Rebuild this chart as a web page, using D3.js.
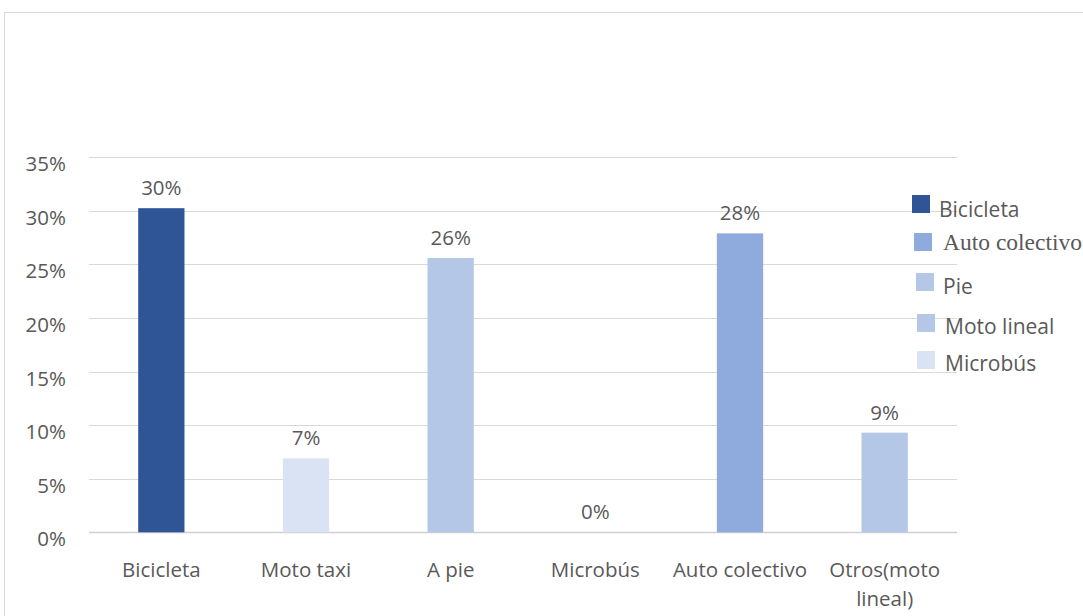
<!DOCTYPE html>
<html><head><meta charset="utf-8">
<script src="https://cdn.jsdelivr.net/npm/d3@7"></script>
<style>body{margin:0;background:#fff}svg{display:block}text{font-family:"Open Sans",sans-serif;fill:#595959}</style>
</head><body><svg id="c" width="1083" height="616"></svg>
<script>
const categories = ["Bicicleta","Moto taxi","A pie","Microbús","Auto colectivo","Otros(moto lineal)"];
const values = [0.3025, 0.069, 0.256, 0, 0.279, 0.093];
const labels = ["30%","7%","26%","0%","28%","9%"];
const barColors = ["#2F5597","#DAE3F3","#B4C7E7","#DAE3F3","#8FAADC","#B4C7E7"];
const yTicks = [0,0.05,0.10,0.15,0.20,0.25,0.30,0.35];
const legendItems = ["Bicicleta","Auto colectivo","Pie","Moto lineal","Microbús"];
const legendColors = ["#2F5597","#8FAADC","#B4C7E7","#B4C7E7","#DAE3F3"];
const legendSerif = [false,true,false,false,false];

const svg = d3.select("#c");
svg.append("rect").attr("x",4.5).attr("y",12.5).attr("width",1090).attr("height",620)
  .attr("fill","none").attr("stroke","#d9d9d9");

const x = d3.scaleBand().domain(categories).range([89,957]).paddingInner(0.68).paddingOuter(0.34);
const y = d3.scaleLinear().domain([0,0.35]).range([532.3,157.3]);

const g = svg.append("g");
g.selectAll("line.grid").data(yTicks).join("line").attr("class","grid")
  .attr("x1",89).attr("x2",957).attr("y1",d=>Math.round(y(d))+0.5).attr("y2",d=>Math.round(y(d))+0.5)
  .attr("stroke",d=>d===0?"#d0d0d0":"#d9d9d9").attr("stroke-width",d=>d===0?1.5:1);

g.selectAll("text.yt").data(yTicks).join("text").attr("class","yt")
  .attr("x",66).attr("y",d=>y(d)+14).attr("text-anchor","end")
  .style("font-size","20.5px").text(d3.format(".0%"));

g.selectAll("rect.bar").data(values).join("rect").attr("class","bar")
  .attr("x",(d,i)=>x(categories[i])).attr("width",x.bandwidth())
  .attr("y",d=>y(d)).attr("height",d=>y(0)-y(d)).attr("fill",(d,i)=>barColors[i]);

g.selectAll("text.dl").data(values).join("text").attr("class","dl")
  .attr("x",(d,i)=>x(categories[i])+x.bandwidth()/2).attr("y",d=>y(d)-13)
  .attr("text-anchor","middle").style("font-size","20.5px").text((d,i)=>labels[i]);

categories.forEach((c,i)=>{
  const cx = x(c)+x.bandwidth()/2;
  const t = g.append("text").attr("x",cx).attr("y",577).attr("text-anchor","middle").style("font-size","20.5px");
  if(c==="Otros(moto lineal)"){
    t.append("tspan").attr("x",cx).text("Otros(moto");
    t.append("tspan").attr("x",cx).attr("dy",29).text("lineal)");
  } else t.text(c);
});

const legPos = [[912,195,939,217],[914,233,943,250],[916,273,943,294],[917,314,945,334],[917,351,945,371]];
legendItems.forEach((l,i)=>{
  const p = legPos[i];
  svg.append("rect").attr("x",p[0]).attr("y",p[1]).attr("width",18).attr("height",18).attr("fill",legendColors[i]);
  svg.append("text").attr("x",p[2]).attr("y",p[3])
    .style("font-family",legendSerif[i]?"'Liberation Serif',serif":null)
    .style("font-size",legendSerif[i]?"23.5px":"21px").text(l);
});
</script></body></html>
